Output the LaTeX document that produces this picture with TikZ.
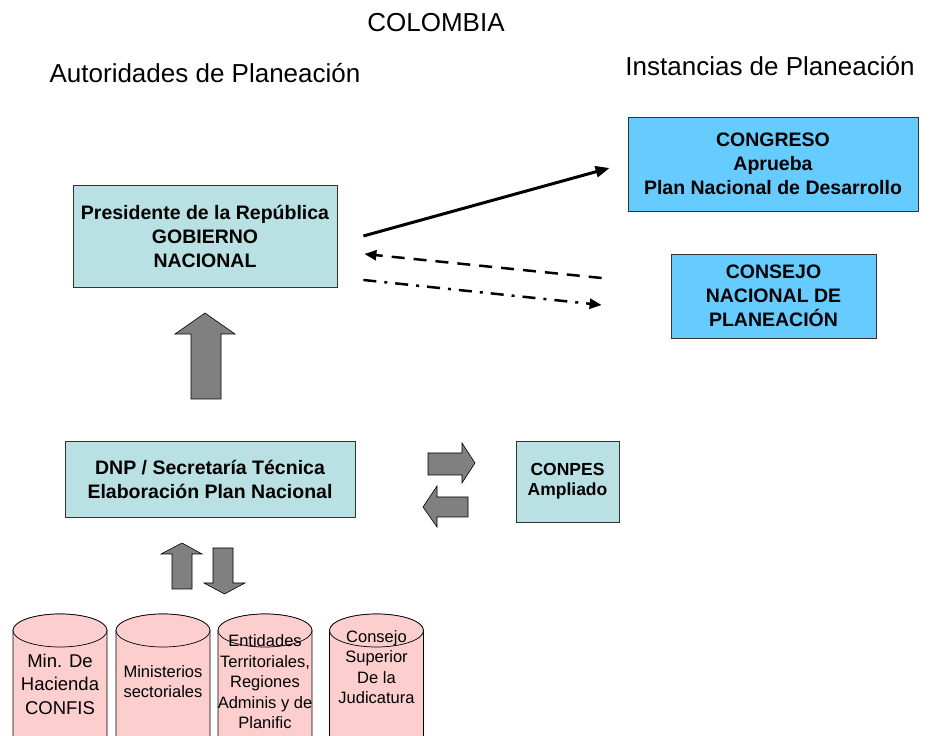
\documentclass[tikz,border=0pt]{standalone}
\usepackage{fontspec}
\setmainfont{Liberation Sans}
\usetikzlibrary{arrows.meta}
\definecolor{cajaverde}{RGB}{185,225,228}
\definecolor{cajaazul}{RGB}{102,204,255}
\definecolor{rosa}{RGB}{252,206,206}
\definecolor{gris}{RGB}{128,128,128}

\begin{document}
\begin{tikzpicture}[x=1pt,y=1pt,
	caja/.style={draw=black!80, line width=0.8pt, inner sep=0pt, align=center,
		font={\fontsize{19.5}{24}\selectfont\bfseries}},
	bloque/.style={draw=black, line width=0.6pt, fill=gris},
	cil/.style={draw=black, line width=0.7pt, fill=rosa},
	titulo/.style={font={\fontsize{26}{30}\selectfont}, anchor=base},
	texcil/.style={align=center, inner sep=0pt, font={\fontsize{16.5}{20.5}\selectfont}}]
		\useasboundingbox (0,0) rectangle (948,736);
		\clip (0,0) rectangle (948,736);
		
		% titulos
		\node[titulo] (col) at (436,704) {COLOMBIA};
		\node[titulo] (aut) at (205,653) {Autoridades de Planeación};
		\node[titulo] (ins) at (770,660) {Instancias de Planeación};
		
		% cajas
		\node[caja, fill=cajaverde, minimum width=264, minimum height=102] (pres) at (205,500)
			{Presidente de la República\\GOBIERNO\\NACIONAL};
		\node[caja, fill=cajaverde, minimum width=290, minimum height=76] (dnp) at (210,257)
			{DNP / Secretaría Técnica\\Elaboración Plan Nacional};
		\node[caja, fill=cajaazul, minimum width=290, minimum height=94] (cong) at (773,572)
			{CONGRESO\\Aprueba\\Plan Nacional de Desarrollo};
		\node[caja, fill=cajaazul, minimum width=205, minimum height=84] (cnp) at (773.5,440)
			{CONSEJO\\NACIONAL DE\\PLANEACIÓN};
		\node[caja, fill=cajaverde, minimum width=103, minimum height=81,
			font={\fontsize{17.5}{20}\selectfont\bfseries}] (conpes) at (567.5,254.5)
			{CONPES\\Ampliado};
		
		% conectores
		\draw[line width=3pt, -{Triangle[length=14pt,width=11pt]}]
			([xshift=26pt]pres.east) -- ([xshift=-18pt,yshift=-4pt]cong.west);
		\draw[line width=2.5pt, dash pattern=on 13pt off 9pt, -{Triangle[length=12pt,width=10pt]}]
			([xshift=-69pt,yshift=18pt]cnp.west) -- ([xshift=27pt,yshift=-18pt]pres.east);
		\draw[line width=2.5pt, dash pattern=on 13pt off 8pt on 3pt off 8pt, -{Triangle[length=12pt,width=10pt]}]
			([xshift=26pt,yshift=-44pt]pres.east) -- ([xshift=-69pt,yshift=-9pt]cnp.west);
		
		% flechas de bloque
		\draw[bloque] (205,423) -- (235,402) -- (221,402) -- (221,337) -- (191,337) -- (191,402) -- (175,402) -- cycle;
		\draw[bloque] (428,283) -- (462,283) -- (462,293) -- (475,273) -- (462,253) -- (462,261) -- (428,261) -- cycle;
		\draw[bloque] (423,229) -- (437,250) -- (437,239) -- (468,239) -- (468,219) -- (437,219) -- (437,209) -- cycle;
		\draw[bloque] (182,193) -- (202,182) -- (192,182) -- (192,147) -- (172,147) -- (172,182) -- (161,182) -- cycle;
		\draw[bloque] (224.5,142) -- (245,153) -- (233,153) -- (233,188) -- (213,188) -- (213,153) -- (204,153) -- cycle;
		
		% cilindros
		\foreach \cx in {60, 163, 265, 376.5}{
			\draw[cil] (\cx-47,105.5) -- (\cx-47,-9) arc (180:360:47 and 16.5) -- (\cx+47,105.5) arc (0:180:47 and 16.5) -- cycle;
			\draw[cil] (\cx,105.5) ellipse (47 and 16.5);
		}
		
		\node[texcil, font={\fontsize{18.5}{23.5}\selectfont}] (hac) at (60,52) {Min. De\\Hacienda\\CONFIS};
		\node[texcil] (min) at (163,54.5) {Ministerios\\sectoriales};
		\node[texcil] (ent) at (265,54) {Entidades\\Territoriales,\\Regiones\\Adminis y de\\Planific};
		\node[texcil] (csj) at (376.5,69) {Consejo\\Superior\\De la\\Judicatura};
\end{tikzpicture}
\end{document}
